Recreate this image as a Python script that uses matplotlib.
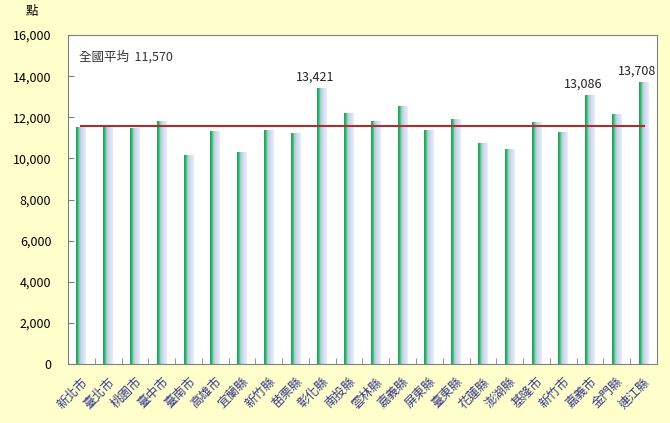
import numpy as np
import matplotlib.pyplot as plt
from matplotlib.colors import LinearSegmentedColormap

plt.rcParams['font.family'] = ['Noto Sans CJK TC', 'DejaVu Sans']

counties = ["新北市", "臺北市", "桃園市", "臺中市", "臺南市", "高雄市", "宜蘭縣",
            "新竹縣", "苗栗縣", "彰化縣", "南投縣", "雲林縣", "嘉義縣", "屏東縣",
            "臺東縣", "花蓮縣", "澎湖縣", "基隆市", "新竹市", "嘉義市", "金門縣", "連江縣"]
points = [11520, 11580, 11460, 11830, 10150, 11320, 10310,
          11380, 11220, 13421, 12220, 11820, 12560, 11400,
          11920, 10730, 10440, 11760, 11280, 13086, 12140, 13708]
labelled = ["彰化縣", "嘉義市", "連江縣"]
national_avg = 11570

fig = plt.figure(figsize=(6.7, 4.23), dpi=100, facecolor="#FFFFCC")
ax = fig.add_axes([0.1015, 0.1395, 0.879, 0.7775])
ax.set_facecolor("white")

x = np.arange(len(counties))
width = 0.37
bars = ax.bar(x, points, width=width, color="none", edgecolor="none", zorder=2)

# green edge fading into pale blue
cmap = LinearSegmentedColormap.from_list(
    "bar", [(0, "#1E9A58"), (0.2, "#35BE75"), (0.34, "#9FCFC0"),
            (0.5, "#C6D4EE"), (1, "#E8EEF9")])
grad = np.linspace(0, 1, 64).reshape(1, -1)
for b in bars:
    x0 = b.get_x()
    im = ax.imshow(grad, cmap=cmap, aspect="auto", zorder=2,
                   extent=[x0, x0 + b.get_width(), 0, b.get_height()])
    im.set_clip_path(b)

ax.plot([x[0], x[-1]], [national_avg, national_avg], color="#A8302E", lw=1.5, zorder=3)
ax.text(-0.1, 14950, f"全國平均  {national_avg:,}", fontsize=9, color="#333333", va="center")

for i, name in enumerate(counties):
    if name in labelled:
        ax.text(x[i] - 0.25, points[i] + 220, f"{points[i]:,}", ha="center", va="bottom",
                fontsize=9, color="#222222")

ax.set_xlim(-0.5, len(counties) - 0.5)
ax.set_ylim(0, 16000)
ax.set_yticks(range(0, 16001, 2000))
ax.set_yticklabels([f"{v:,}" for v in range(0, 16001, 2000)], fontsize=9)
ax.set_xticks(x)
ax.set_xticklabels(counties, rotation=45, ha="right", va="top", rotation_mode="anchor",
                   fontsize=9, color="#3A3A8C")
ax.tick_params(axis="x", length=0, pad=8)
ax.set_xticks(x[:-1] + 0.5, minor=True)
ax.tick_params(axis="x", which="minor", direction="in", length=4, color="#808080")
ax.tick_params(axis="y", direction="in", length=4, color="#808080", pad=12)
for s in ax.spines.values():
    s.set_color("#808080")

fig.text(0.048, 0.972, "點", fontsize=9, ha="center", va="center")

plt.savefig("out.png", dpi=100, facecolor=fig.get_facecolor())
